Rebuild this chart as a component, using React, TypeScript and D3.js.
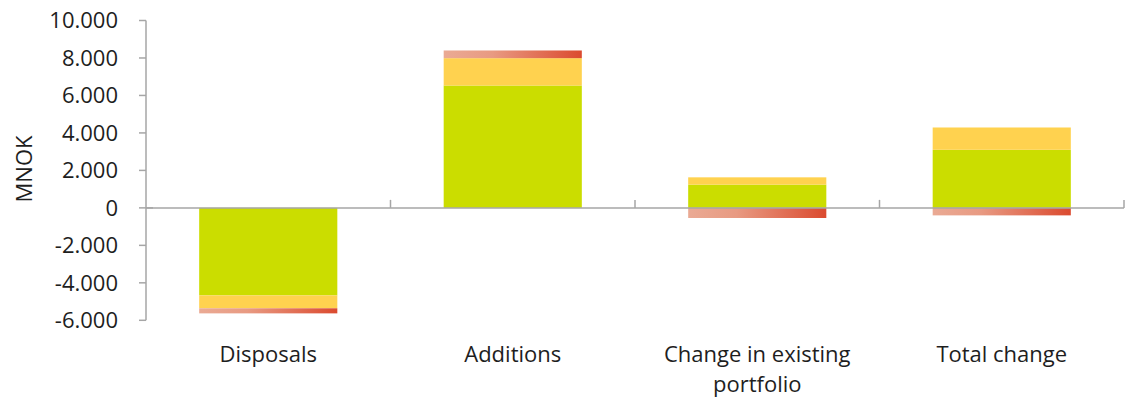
import React from "react";
import * as d3 from "d3";

const categories = ["Disposals", "Additions", "Change in existing portfolio", "Total change"];
const categoryLines = [["Disposals"], ["Additions"], ["Change in existing", "portfolio"], ["Total change"]];
const seriesNames = ["Series A", "Series B", "Series C"];
const seriesA = [-4670, 6530, 1240, 3100];
const seriesB = [-690, 1460, 390, 1190];
const seriesC = [-270, 410, -540, -400];
const yTicks = [-6000, -4000, -2000, 0, 2000, 4000, 6000, 8000, 10000];
const yTickLabels = ["-6.000", "-4.000", "-2.000", "0", "2.000", "4.000", "6.000", "8.000", "10.000"];

const W = 1136;
const H = 400;
const left = 146;
const right = 1124;
const top = 20.5;
const bottom = 320.3;
const FONT = "'Open Sans', 'DejaVu Sans', sans-serif";
const AXIS = "#a6a6a6";
const TEXT = "#1e1e1e";

export default function App() {
  const x = d3.scaleBand<string>().domain(categories).range([left, right]).paddingInner(0.435).paddingOuter(0.2175);
  const y = d3.scaleLinear().domain([-6000, 10000]).range([bottom, top]);
  const rows = categories.map((c, i) => ({ cat: c, A: seriesA[i], B: seriesB[i], C: seriesC[i] }));
  const keys = ["A", "B", "C"];
  const stack = d3.stack<any>().keys(keys).offset(d3.stackOffsetDiverging);
  const layers = stack(rows);
  const fills = ["#cbdd00", "#ffd24f", "url(#redGrad)"];
  const y0 = y(0);

  return (
    <svg width={W} height={H} style={{ position: "absolute", left: 0, top: 0 }} fontFamily={FONT}>
      <defs>
        <linearGradient id="redGrad" x1="0" y1="0" x2="1" y2="0">
          <stop offset="0" stopColor="#eaaa94" />
          <stop offset="0.35" stopColor="#e89a82" />
          <stop offset="1" stopColor="#db4a2f" />
        </linearGradient>
      </defs>
      {layers.map((layer, li) => (
        <g key={seriesNames[li]}>
          {layer.map((d, i) => {
            const xp = x(categories[i])!;
            const ya = y(d[0]);
            const yb = y(d[1]);
            return (
              <rect key={i} x={xp} width={x.bandwidth()} y={Math.min(ya, yb)} height={Math.abs(ya - yb)} fill={fills[li]} />
            );
          })}
        </g>
      ))}
      {/* y axis */}
      <line x1={left} x2={left} y1={y(10000)} y2={y(-6000)} stroke={AXIS} strokeWidth={1.5} />
      {yTicks.map((t, i) => (
        <g key={t}>
          <line x1={left - 7} x2={left} y1={y(t)} y2={y(t)} stroke={AXIS} strokeWidth={1.5} />
          <text x={118} y={y(t)} dy="0.36em" textAnchor="end" fontSize={22} fill={TEXT}>
            {yTickLabels[i]}
          </text>
        </g>
      ))}
      {/* category axis at zero */}
      <line x1={left} x2={right} y1={y0} y2={y0} stroke={AXIS} strokeWidth={1.5} />
      <line x1={left} x2={left + 7} y1={y0} y2={y0} stroke={AXIS} strokeWidth={1.5} />
      {categories.map((c, i) => {
        const xb = left + x.step() * (i + 1);
        return <line key={c} x1={xb} x2={xb} y1={y0 - 8} y2={y0} stroke={AXIS} strokeWidth={1.5} />;
      })}
      {categories.map((c, i) => (
        <text key={c} x={x(c)! + x.bandwidth() / 2} y={362} textAnchor="middle" fontSize={22} fill={TEXT}>
          {categoryLines[i].map((ln, j) => (
            <tspan key={j} x={x(c)! + x.bandwidth() / 2} dy={j === 0 ? 0 : 30}>
              {ln}
            </tspan>
          ))}
        </text>
      ))}
      <text transform={`translate(32,169) rotate(-90)`} textAnchor="middle" fontSize={22} fill={TEXT}>
        MNOK
      </text>
    </svg>
  );
}
